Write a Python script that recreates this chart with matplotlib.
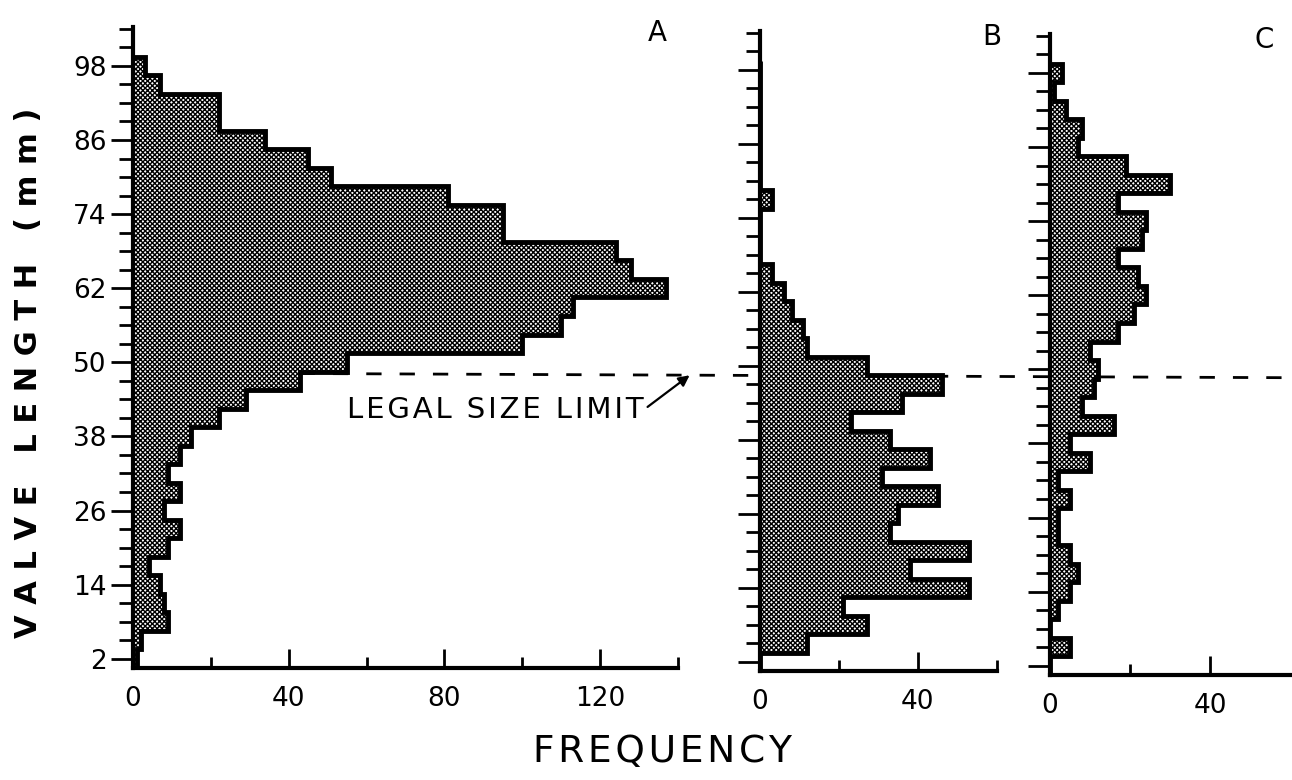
import numpy as np
import matplotlib
matplotlib.use('Agg')
import matplotlib.pyplot as plt
from matplotlib.ticker import FixedLocator

plt.rcParams['font.family'] = ['DejaVu Sans']
plt.rcParams['hatch.linewidth'] = 1.0
plt.rcParams['hatch.color'] = 'black'

# valve length classes (mm), 3 mm wide, centred on the tick marks
length_mid = [2, 5, 8, 11, 14, 17, 20, 23, 26, 29, 32, 35, 38, 41, 44, 47, 50,
              53, 56, 59, 62, 65, 68, 71, 74, 77, 80, 83, 86, 89, 92, 95, 98]

# frequencies (bottom -> top)
freq_a = [1, 2, 9, 8, 7, 4, 9, 12, 8, 12, 9, 12, 15, 22, 29, 43, 55,
          100, 110, 113, 137, 128, 124, 95, 95, 81, 51, 45, 34, 22, 22, 7, 3]
freq_b = [0, 12, 27, 21, 53, 38, 53, 33, 35, 45, 31, 43, 33, 23, 36, 46, 27,
          12, 11, 8, 6, 3, 0, 0, 0, 3, 0, 0, 0, 0, 0, 0, 0]
freq_c = [0, 5, 0, 2, 5, 7, 5, 2, 2, 5, 2, 10, 5, 16, 8, 11, 12,
          10, 17, 21, 24, 22, 17, 23, 24, 17, 30, 19, 7, 8, 4, 1, 3]

panel_names = ['A', 'B', 'C']
legal_limit = 48.3   # mm

y_major = [2, 14, 26, 38, 50, 62, 74, 86, 98]
y_minor = np.arange(2, 105, 3)

half = 1.5
edges = np.append(np.array(length_mid) - half, length_mid[-1] + half)

HS = '\u200a'  # hair space, used to open up the lettering a bit


def spaced(s, sep=HS):
    return sep.join(s)


def draw_hist(ax, freq):
    # halftone-like fill, then the heavy step outline
    ax.stairs(freq, edges, orientation='horizontal', baseline=0, fill=True,
              facecolor='white', edgecolor='black', hatch='xxxxxxx', linewidth=0,
              zorder=2)
    ax.stairs(freq, edges, orientation='horizontal', baseline=0, fill=False,
              color='black', linewidth=3.5, joinstyle='miter', zorder=3)


def style_panel(ax, xmax, xmajor, xminor, show_ylabels):
    ax.set_facecolor('none')
    ax.set_xlim(0, xmax)
    ax.set_ylim(0.5, 104.3)
    ax.spines['top'].set_visible(False)
    ax.spines['right'].set_visible(False)
    for s in ['left', 'bottom']:
        ax.spines[s].set_linewidth(3)
        ax.spines[s].set_zorder(4)
    ax.xaxis.set_major_locator(FixedLocator(xmajor))
    ax.xaxis.set_minor_locator(FixedLocator(xminor))
    ax.yaxis.set_major_locator(FixedLocator(y_major))
    ax.yaxis.set_minor_locator(FixedLocator(y_minor))
    ax.tick_params(axis='x', which='both', direction='in', width=2, pad=13,
                   labelsize=19)
    ax.tick_params(axis='x', which='major', length=14)
    ax.tick_params(axis='x', which='minor', length=8)
    ax.tick_params(axis='y', which='both', direction='out', width=2, pad=3,
                   labelsize=19, labelleft=show_ylabels)
    ax.tick_params(axis='y', which='major', length=16)
    ax.tick_params(axis='y', which='minor', length=10)


fig = plt.figure(figsize=(12.92, 7.8), dpi=100)
ax_a = fig.add_axes([0.1029, 0.1436, 0.4218, 0.8218])
ax_b = fig.add_axes([0.5882, 0.1397, 0.1834, 0.8205])
ax_c = fig.add_axes([0.8127, 0.1346, 0.1873, 0.8218])

style_panel(ax_a, 140, [0, 40, 80, 120], [20, 60, 100, 140], True)
style_panel(ax_b, 60, [0, 40], [20, 60], False)
style_panel(ax_c, 60.5, [0, 40], [20], False)

# legal size limit runs across all three panels, under the histograms
ax_a.plot([0, 300], [legal_limit, legal_limit - 0.8], color='black', lw=2,
          linestyle=(0, (5.5, 6.5)), clip_on=False, zorder=1)

for ax, freq in zip([ax_a, ax_b, ax_c], [freq_a, freq_b, freq_c]):
    draw_hist(ax, freq)

ax_a.annotate(spaced('LEGAL SIZE LIMIT'), xy=(143, 47.9), xytext=(55, 42.3),
              textcoords='data', ha='left', va='center', fontsize=21,
              annotation_clip=False,
              arrowprops=dict(arrowstyle='-|>', color='black', lw=1.6,
                              mutation_scale=16, shrinkA=1, shrinkB=0,
                              relpos=(1, 0.5)))

for ax, name, xpos in zip([ax_a, ax_b, ax_c], panel_names, [0.963, 0.98, 0.885]):
    ax.text(xpos, 0.99, name, transform=ax.transAxes, ha='center', va='center',
            fontsize=20)

fig.text(0.513, 0.036, spaced('FREQUENCY'), ha='center', va='center', fontsize=27)
fig.text(0.022, 0.522, 'V A L V E   L E N G T H   ( m m )', rotation=90,
         ha='center', va='center', fontsize=22, fontweight='bold')

fig.savefig('out.png', dpi=100)
